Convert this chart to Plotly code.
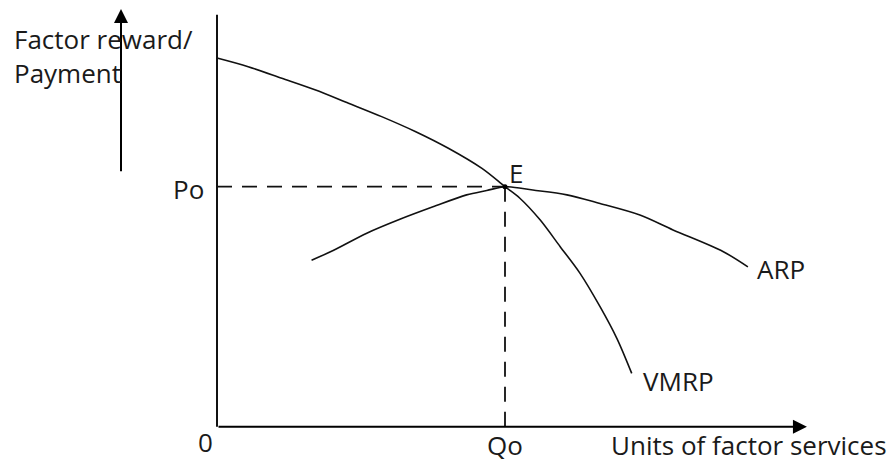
import plotly.graph_objects as go

# ---- data (arbitrary units; origin at 0) ----
Qo = 6.0
Po = 5.0

vmrp_x = [0.0, 0.65, 1.35, 2.04, 2.74, 3.43, 4.13, 4.82, 5.52, 6.00, 6.31, 6.73, 7.15, 7.56, 7.98, 8.33, 8.64]
vmrp_y = [7.68, 7.50, 7.26, 7.02, 6.74, 6.46, 6.15, 5.80, 5.38, 5.00, 4.76, 4.31, 3.75, 3.20, 2.50, 1.84, 1.11]

arp_x = [1.97, 2.42, 3.12, 3.81, 4.50, 5.20, 5.62, 6.00, 6.58, 7.29, 7.98, 8.81, 9.50, 10.54, 11.06]
arp_y = [3.47, 3.67, 4.03, 4.32, 4.58, 4.83, 4.92, 5.00, 4.93, 4.83, 4.65, 4.41, 4.10, 3.65, 3.33]

x_axis_end = 12.29
y_axis_end = 8.58
side_arrow_x = -2.0
side_arrow_y = [5.29, 8.70]

FONT = "Open Sans"
TXT = "#1a1a1a"
FS = 26

fig = go.Figure()

# vertical axis
fig.add_trace(go.Scatter(x=[0, 0], y=[0, y_axis_end], mode="lines",
                         line=dict(color="#111", width=2), hoverinfo="skip", showlegend=False))
# dashed guides
fig.add_trace(go.Scatter(x=[0, Qo], y=[Po, Po], mode="lines",
                         line=dict(color="#111", width=1.8, dash="15px,10px"), hoverinfo="skip", showlegend=False))
fig.add_trace(go.Scatter(x=[Qo, Qo], y=[Po, 0], mode="lines",
                         line=dict(color="#111", width=1.8, dash="15px,10px"), hoverinfo="skip", showlegend=False))
# curves
fig.add_trace(go.Scatter(x=vmrp_x, y=vmrp_y, mode="lines", line_shape="spline",
                         line=dict(color="#111", width=1.6, smoothing=0.9), showlegend=False, name="VMRP"))
fig.add_trace(go.Scatter(x=arp_x, y=arp_y, mode="lines", line_shape="spline",
                         line=dict(color="#111", width=1.6, smoothing=0.9), showlegend=False, name="ARP"))
# equilibrium point
fig.add_trace(go.Scatter(x=[Qo], y=[Po], mode="markers",
                         marker=dict(color="#000", size=5), showlegend=False, name="E"))

annotations = []
# horizontal axis arrow
annotations.append(dict(x=x_axis_end, y=0, ax=0, ay=0, xref="x", yref="y", axref="x", ayref="y",
                        text="", showarrow=True, arrowhead=2, arrowsize=1.4, arrowwidth=2,
                        arrowcolor="#000", standoff=0))
# side arrow
annotations.append(dict(x=side_arrow_x, y=side_arrow_y[1], ax=side_arrow_x, ay=side_arrow_y[0],
                        xref="x", yref="y", axref="x", ayref="y",
                        text="", showarrow=True, arrowhead=2, arrowsize=1.4, arrowwidth=2,
                        arrowcolor="#000", standoff=0))

def label(text, x, y, xanchor="left"):
    annotations.append(dict(x=x, y=y, xref="x", yref="y", text=text, showarrow=False,
                            xanchor=xanchor, yanchor="middle", borderpad=0, align="left",
                            font=dict(family=FONT, size=FS, color=TXT)))

label("Factor reward/<br>Payment", -4.25, 7.72)
label("Po", -0.60, 4.95, "center")
label("E", 6.23, 5.28, "center")
label("ARP", 11.22, 3.28)
label("VMRP", 8.86, 0.95)
label("0", -0.23, -0.31, "center")
label("Qo", 6.0, -0.38, "center")
label("Units of factor services", 8.19, -0.38)

W, H = 892, 463
PX = 48.0
x0_px, y0_px = 217.0, 426.7

fig.update_layout(
    width=W, height=H, autosize=False,
    margin=dict(l=0, r=0, t=0, b=0),
    paper_bgcolor="white", plot_bgcolor="white",
    xaxis=dict(range=[-x0_px / PX, (W - x0_px) / PX], visible=False, fixedrange=True),
    yaxis=dict(range=[(y0_px - H) / PX, y0_px / PX], visible=False, fixedrange=True),
    annotations=annotations,
    showlegend=False,
)

fig.write_html("out.html", config={"displayModeBar": False},
               post_script="document.body.style.margin='0';document.body.style.overflow='hidden';")
